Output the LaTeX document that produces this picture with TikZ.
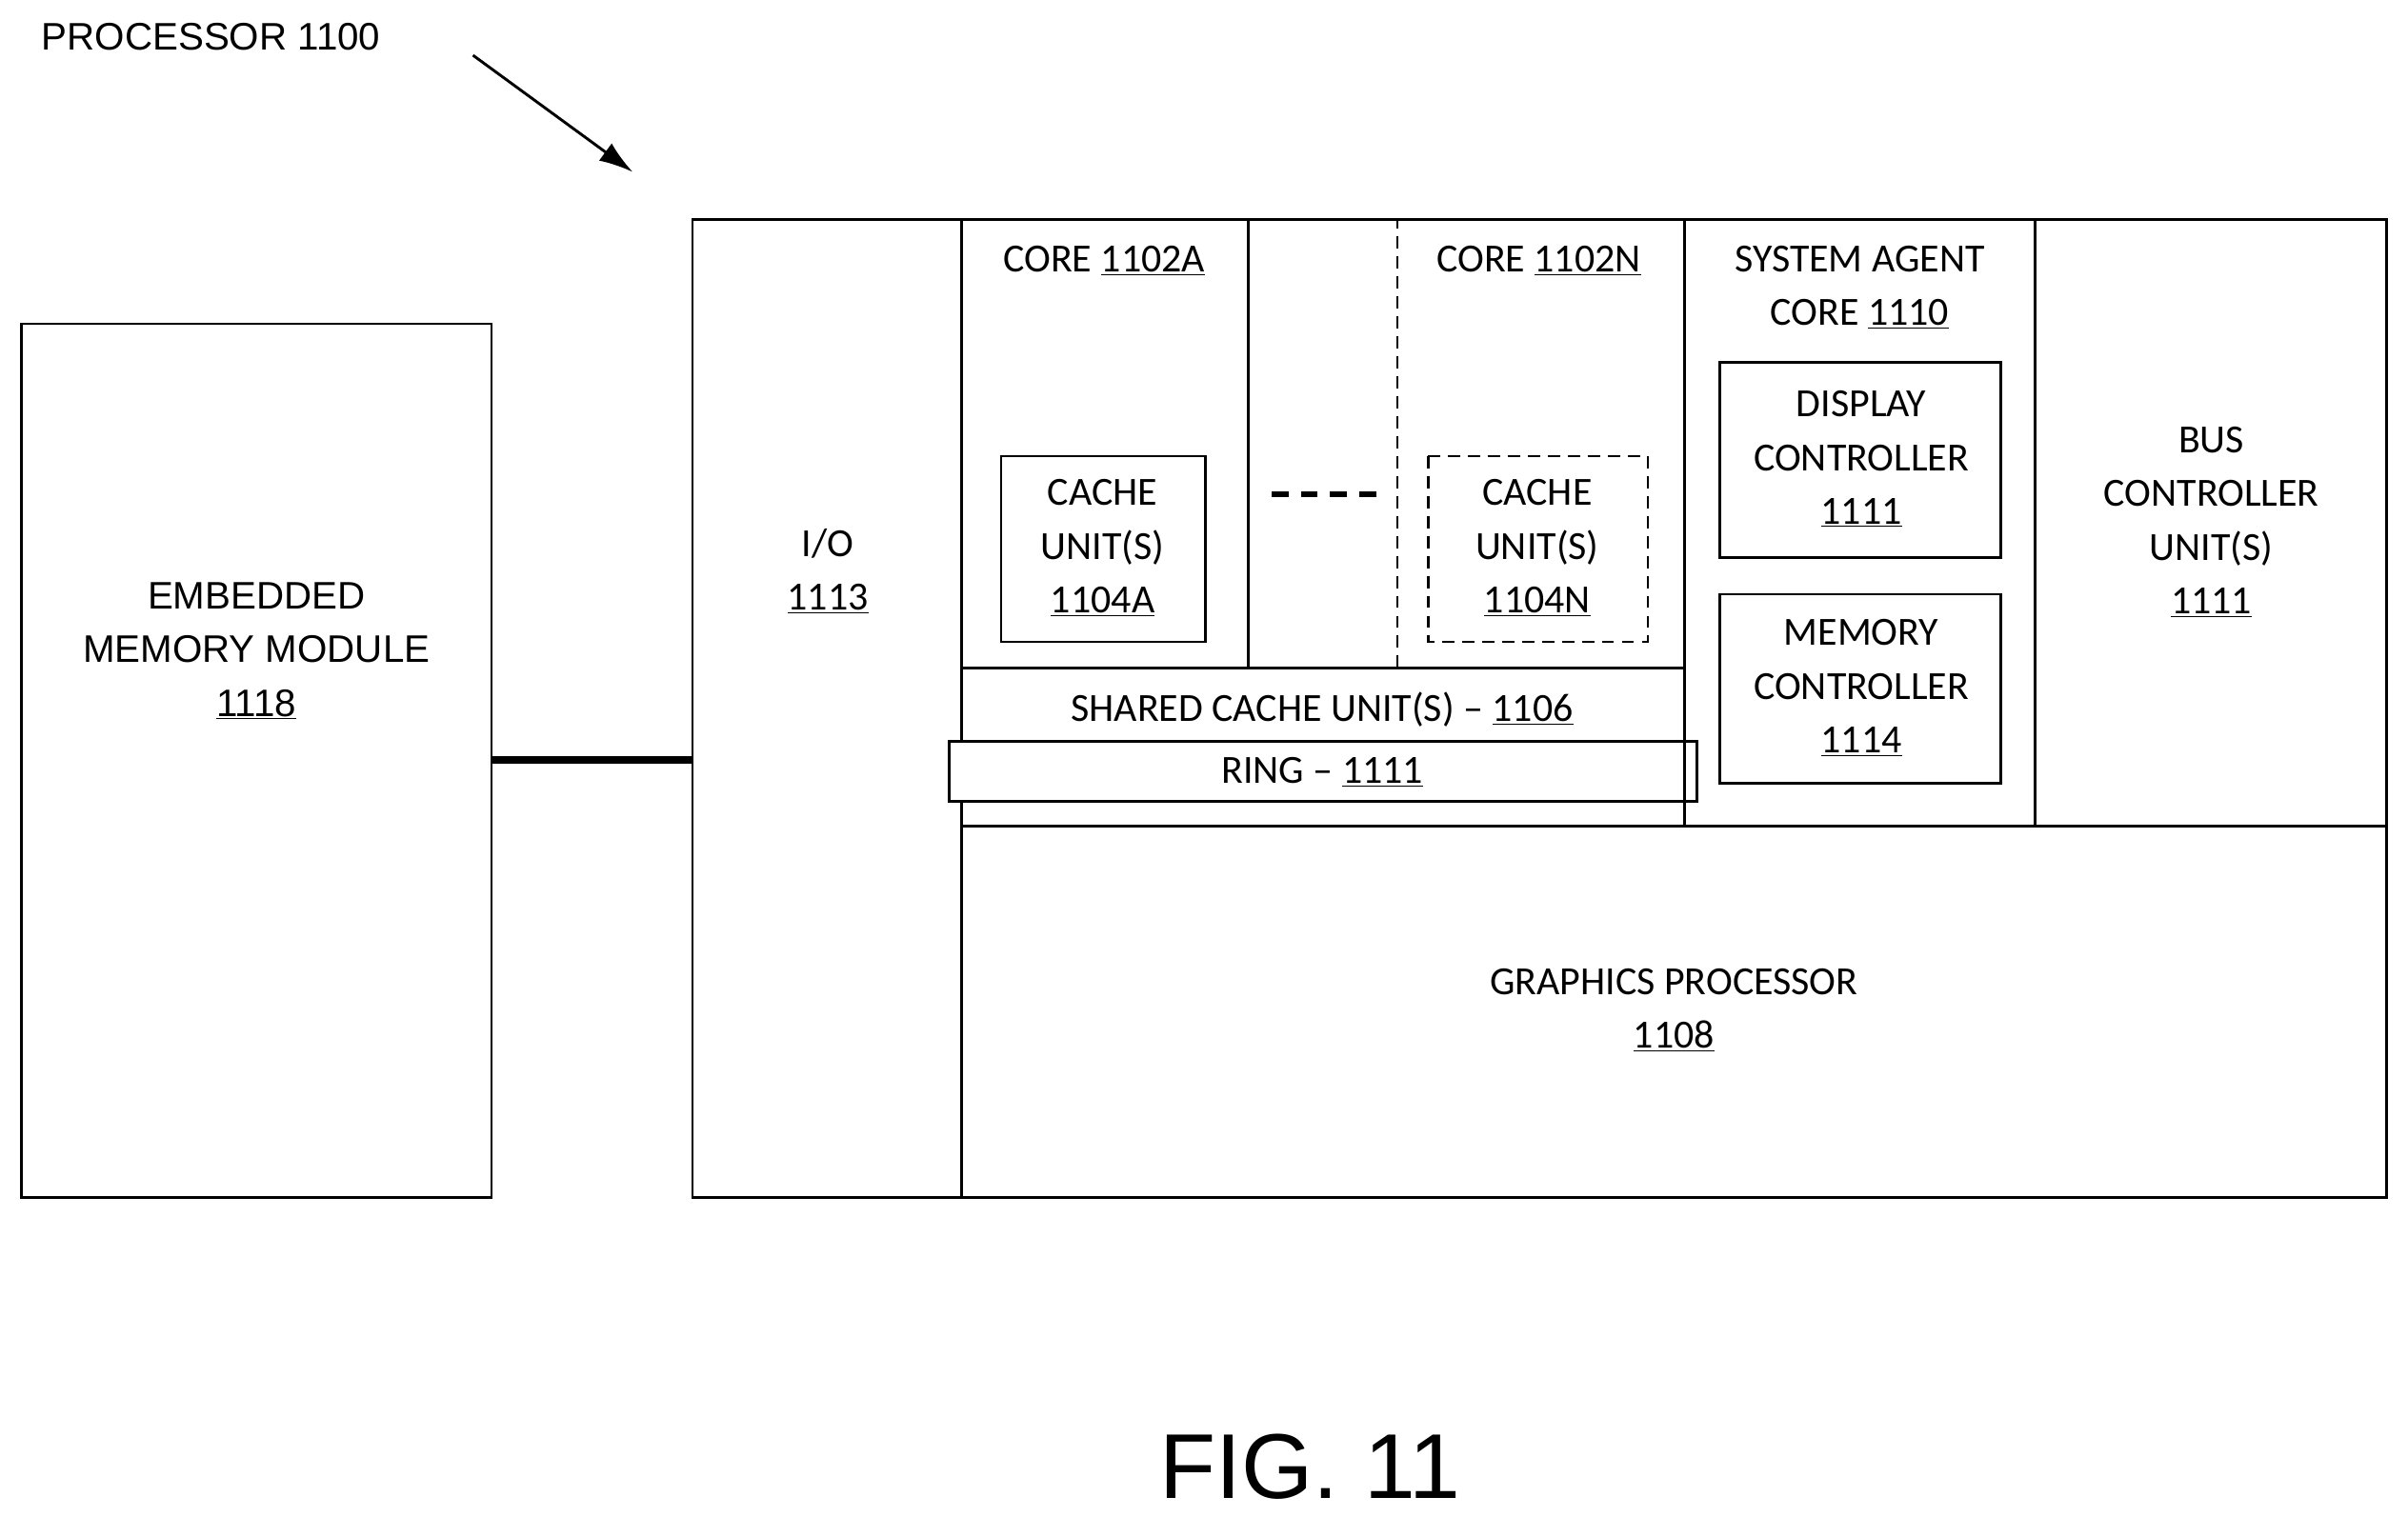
\documentclass[tikz,border=0pt]{standalone}
\usepackage{fontspec}
\usetikzlibrary{arrows.meta}
\setmainfont{Carlito}
\newfontfamily\arialf{Liberation Sans}
\begin{document}
\begin{tikzpicture}[x=1pt,y=-1pt,
 bx/.style={draw,line width=1.6pt},
 dbx/.style={draw,line width=1.6pt,dash pattern=on 8pt off 5pt},
 t/.style={align=center,font=\fontsize{26}{35}\selectfont,inner sep=0pt},
 ta/.style={align=center,font=\arialf\fontsize{25}{35}\selectfont,inner sep=0pt}]
\useasboundingbox (0,0) rectangle (1568,988);
\draw[bx] (14,211) rectangle (320,780);
\node[ta] (emb) at (167,424) {EMBEDDED\\MEMORY MODULE\\\underline{1118}};
\draw[bx] (451,143) rectangle (1554,780);
\draw[bx] (626,143) -- (626,780);
\node[t] (io) at (539,372) {I/O\\\underline{1113}};
\draw[bx] (626,143) rectangle (813,435);
\node[t] (ca) at (719,170) {CORE \underline{1102A}};
\draw[bx] (652,297) rectangle (785,418);
\node[t] (cua) at (718,357) {CACHE\\UNIT(S)\\\underline{1104A}};
\draw[line width=4pt,dash pattern=on 11pt off 8pt] (828,322) -- (898,322);
\draw[dbx] (910,435) -- (910,143) -- (1097,143);
\node[t] (cn) at (1002,170) {CORE \underline{1102N}};
\draw[dbx] (930,297) rectangle (1073,418);
\node[t] (cun) at (1001,357) {CACHE\\UNIT(S)\\\underline{1104N}};
\draw[bx] (626,435) rectangle (1097,538);
\node[t] (sc) at (861,462) {SHARED CACHE UNIT(S) -- \underline{1106}};
\draw[bx,fill=white] (618,483) rectangle (1105,522);
\node[t] (ring) at (861,503) {RING -- \underline{1111}};
\draw[bx] (1097,143) rectangle (1325,538);
\node[t] (sa) at (1211,187) {SYSTEM AGENT\\CORE \underline{1110}};
\draw[bx] (1120,236) rectangle (1303,363);
\node[t] (dc) at (1212,299) {DISPLAY\\CONTROLLER\\\underline{1111}};
\draw[bx] (1120,387) rectangle (1303,510);
\node[t] (mc) at (1212,448) {MEMORY\\CONTROLLER\\\underline{1114}};
\draw[bx] (1325,143) rectangle (1554,538);
\node[t] (bc) at (1440,340) {BUS\\CONTROLLER\\UNIT(S)\\\underline{1111}};
\draw[bx] (626,538) -- (1554,538);
\node[t] (gp) at (1090,658) {GRAPHICS PROCESSOR\\\underline{1108}};
\coordinate (L) at (320,495); \coordinate (R) at (451,495);
\draw[line width=5pt] (L) -- (R);
\node[ta,anchor=west] (pl) at (27,24) {PROCESSOR 1100};
\coordinate (a1) at (308,36); \coordinate (a2) at (412,112);
\draw[line width=1.8pt,-{Latex[length=22pt,width=14pt]}] (a1) -- (a2);
\node[ta,font=\arialf\fontsize{60}{70}\selectfont] (fig) at (853,955) {FIG. 11};
\end{tikzpicture}
\end{document}
